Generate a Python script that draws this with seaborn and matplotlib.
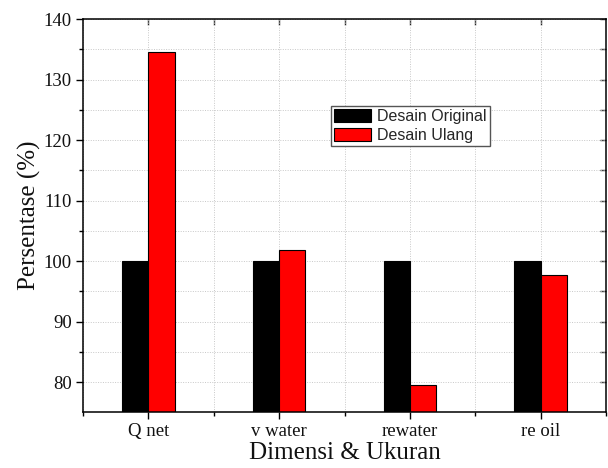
import numpy as np
import pandas as pd
import matplotlib
matplotlib.use("Agg")
import matplotlib.pyplot as plt
import seaborn as sns
from matplotlib.ticker import MultipleLocator, FixedLocator

categories = ["Q net", "v water", "rewater", "re oil"]
series_names = ["Desain Original", "Desain Ulang"]
original = [100, 100, 100, 100]
ulang = [134.5, 101.9, 79.45, 97.7]

df = pd.DataFrame({
    "Dimensi": categories * 2,
    "Persentase": original + ulang,
    "Seri": [series_names[0]] * len(categories) + [series_names[1]] * len(categories),
})

sns.set_theme(style="white")
plt.rcParams["font.family"] = ["Liberation Serif", "DejaVu Serif"]

fig = plt.figure(figsize=(6.08, 4.68), dpi=100)
ax = fig.add_axes([83 / 608, 1 - 412.3 / 468, (606 - 83) / 608, (412.3 - 19) / 468])

sns.barplot(data=df, x="Dimensi", y="Persentase", hue="Seri", order=categories,
            hue_order=series_names, palette=["#000000", "#ff0000"], width=0.4,
            dodge=True, gap=0, edgecolor="#000000", linewidth=0.8, ax=ax,
            saturation=1, legend=True)

ax.set_xlim(-0.5, 3.5)
ax.set_ylim(75, 140)
ax.yaxis.set_major_locator(FixedLocator([80, 90, 100, 110, 120, 130, 140]))
ax.yaxis.set_minor_locator(FixedLocator([85, 95, 105, 115, 125, 135]))
ax.xaxis.set_minor_locator(FixedLocator([-0.5, 0.5, 1.5, 2.5, 3.5]))

ax.set_axisbelow(True)
ax.grid(which="both", linestyle=(0, (1, 1.5)), color="#c8c8c8", linewidth=0.7)

for s in ax.spines.values():
    s.set_visible(True)
    s.set_color("black")
    s.set_linewidth(1.1)

ax.tick_params(axis="both", which="major", direction="out", length=5, width=1,
               color="black", labelsize=13.5, labelcolor="#111111", pad=3)
ax.tick_params(axis="both", which="minor", direction="out", length=3, width=1, color="black")
ax.tick_params(axis="x", which="both", bottom=True, top=False)
ax.tick_params(axis="y", which="both", left=True, right=False)

secx = ax.secondary_xaxis("top")
secx.set_xticks([0, 1, 2, 3])
secx.xaxis.set_minor_locator(FixedLocator([0.5, 1.5, 2.5]))
secx.tick_params(which="both", direction="in", length=4, width=1, labeltop=False)
secx.spines["top"].set_visible(False)

secy = ax.secondary_yaxis("right")
secy.set_yticks([80, 90, 100, 110, 120, 130, 140])
secy.yaxis.set_minor_locator(FixedLocator([85, 95, 105, 115, 125, 135]))
secy.tick_params(which="both", direction="in", length=4, width=1, labelright=False)
secy.spines["right"].set_visible(False)

ax.set_xlabel("Dimensi & Ukuran", fontsize=18, labelpad=1, color="#111111")
ax.set_ylabel("Persentase (%)", fontsize=18, labelpad=2, color="#111111")

handles, labels = ax.get_legend_handles_labels()
leg = ax.legend(handles, labels, loc="upper left",
                bbox_to_anchor=((330.7 - 83) / 523, (412.3 - 105.7) / 393.3),
                borderaxespad=0, prop={"family": "Liberation Sans", "size": 11.5},
                frameon=True, fancybox=False, edgecolor="#555555", facecolor="white",
                framealpha=1, handlelength=2.3, handleheight=0.9, handletextpad=0.4,
                labelspacing=0.25, borderpad=0.2)
leg.get_frame().set_linewidth(1.0)

fig.savefig("out.png", dpi=100)
